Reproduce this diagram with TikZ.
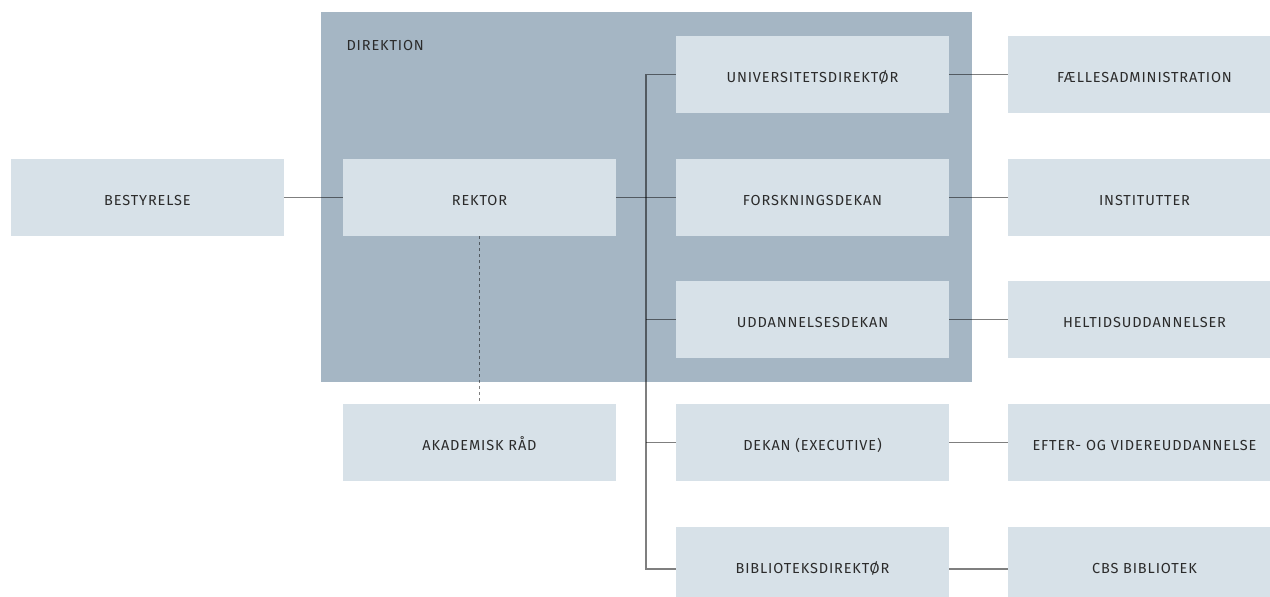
\documentclass[tikz,border=0pt]{standalone}
\usepackage{fontspec}
\setmainfont{Fira Sans}[LetterSpace=6]
\definecolor{direktionblue}{HTML}{A5B6C4}
\definecolor{unitblue}{HTML}{D7E1E8}
\definecolor{unittext}{HTML}{2B2B2B}
\tikzset{
  unit/.style={fill=unitblue, minimum width=273pt, minimum height=77pt,
    inner sep=0pt, text height=16.5pt, text depth=0pt, text=unittext, font=\fontsize{14.5}{16}\selectfont},
  link/.style={draw=black, draw opacity=0.5, line width=1.1pt},
}

\begin{document}
\begin{tikzpicture}[x=1pt,y=-1pt]
  \useasboundingbox (0,0) rectangle (1270,597);
  \fill[direktionblue] (321,12) rectangle (972,382);
  \node[anchor=west, text=unittext, font=\fontsize{14.5}{16}\selectfont] (direktion) at (343,46) {DIREKTION};

  \node[unit] (bestyrelse) at (147.5,197.5) {BESTYRELSE};
  \node[unit] (rektor) at (479.5,197.5) {REKTOR};
  \node[unit] (akadraad) at (479.5,442.5) {AKADEMISK RÅD};

  \node[unit] (univdir) at (812.5,74.5) {UNIVERSITETSDIREKTØR};
  \node[unit] (forskdekan) at (812.5,197.5) {FORSKNINGSDEKAN};
  \node[unit] (uddekan) at (812.5,319.5) {UDDANNELSESDEKAN};
  \node[unit] (dekanexec) at (812.5,442.5) {DEKAN (EXECUTIVE)};
  \node[unit] (bibdir) at (812.5,565.5) {BIBLIOTEKSDIREKTØR};

  \node[unit] (faelles) at (1144.5,74.5) {FÆLLESADMINISTRATION};
  \node[unit] (institutter) at (1144.5,197.5) {INSTITUTTER};
  \node[unit] (heltid) at (1144.5,319.5) {HELTIDSUDDANNELSER};
  \node[unit] (efterudd) at (1144.5,442.5) {EFTER- OG VIDEREUDDANNELSE};
  \node[unit] (cbsbib) at (1144.5,565.5) {CBS BIBLIOTEK};

  \coordinate (bustop) at (646,74.5);
  \coordinate (busbot) at (646,569);

  \draw[link] (bestyrelse.east) -- (rektor.west);
  \draw[link] (rektor.east) -- (forskdekan.west);
  \draw[link] (univdir.west) -- (bustop) -- (busbot) -- (busbot -| bibdir.west);
  \draw[link] (uddekan.west) -- (uddekan.west -| bustop);
  \draw[link] (dekanexec.west) -- (dekanexec.west -| bustop);
  \draw[link, dash pattern=on 3pt off 3pt] (rektor.south) -- (akadraad.north);

  \draw[link] (univdir.east) -- (faelles.west);
  \draw[link] (forskdekan.east) -- (institutter.west);
  \draw[link] (uddekan.east) -- (heltid.west);
  \draw[link] (dekanexec.east) -- (efterudd.west);
  \draw[link] (busbot -| bibdir.east) -- (busbot -| cbsbib.west);
\end{tikzpicture}
\end{document}
